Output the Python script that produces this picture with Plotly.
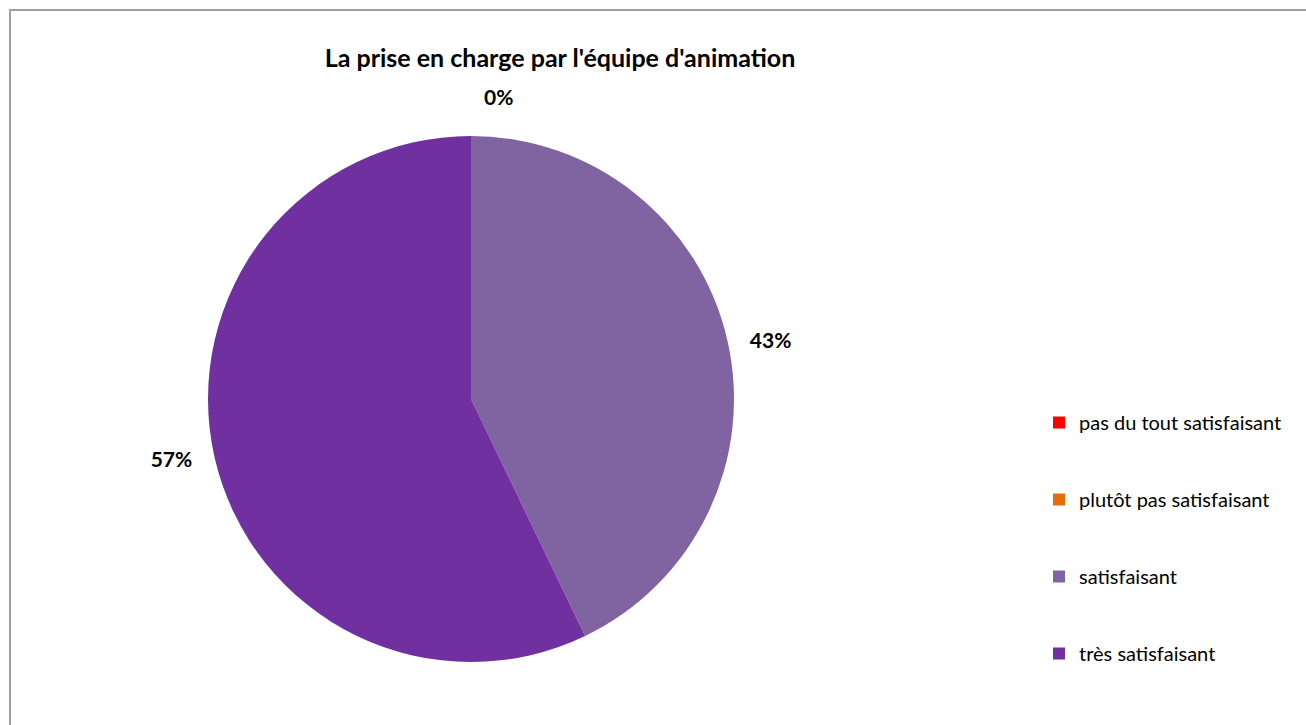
import plotly.graph_objects as go

categories = ["pas du tout satisfaisant", "plutôt pas satisfaisant", "satisfaisant", "très satisfaisant"]
values = [0, 0, 3, 4]
colors = ["#FF0000", "#E46C0A", "#8064A2", "#7030A0"]
show_label = [True, False, True, True]
title = "La prise en charge par l'équipe d'animation"

# spacing around outside labels (pushes them further from the pie, like the original)
NB = "\u00a0"
label_templates = [
    "<b>%{percent:.0%}</b><br> ",
    "",
    NB * 3 + "<b>%{percent:.0%}</b>",
    "<b>%{percent:.0%}</b>" + NB * 3,
]

W, H = 1306, 725
FONT = "Lato, 'Open Sans', sans-serif"

fig = go.Figure()
fig.add_trace(go.Pie(
    labels=categories, values=values,
    marker=dict(colors=colors),
    sort=False, direction="clockwise", rotation=0,
    textposition="outside",
    texttemplate=[t if s else "" for t, s in zip(label_templates, show_label)],
    textfont=dict(family=FONT, size=21, color="#000000"),
    showlegend=False, hoverinfo="label+percent",
    domain=dict(x=[208 / W, 734 / W], y=[(H - 662) / H, (H - 136) / H]),
))

for cat, col in zip(categories, colors):
    fig.add_trace(go.Scatter(
        x=[None], y=[None], mode="markers", name=cat, legendgroup=cat,
        marker=dict(symbol="square", size=12, color=col),
        showlegend=True,
    ))

fig.update_layout(
    width=W, height=H,
    margin=dict(l=0, r=0, t=0, b=0),
    paper_bgcolor="white", plot_bgcolor="white",
    title=dict(text="<b>" + title + "</b>", x=560 / W, xanchor="center",
               y=1 - 58 / H, yanchor="middle",
               font=dict(family=FONT, size=25, color="#000000")),
    xaxis=dict(visible=False), yaxis=dict(visible=False),
    legend=dict(x=1039 / W, xanchor="left", y=1 - 403 / H, yanchor="top",
                font=dict(family=FONT, size=20, color="#000000"),
                tracegroupgap=48, itemwidth=30, bgcolor="rgba(0,0,0,0)"),
    shapes=[dict(type="rect", xref="paper", yref="paper",
                 x0=10 / W, x1=1.05, y0=-0.05, y1=1 - 10 / H,
                 line=dict(color="#A0A0A0", width=2), fillcolor="rgba(0,0,0,0)",
                 layer="below")],
)

fig.write_html("out.html", config={"displayModeBar": False},
               post_script="document.body.style.margin='0';document.body.style.overflow='hidden';")
